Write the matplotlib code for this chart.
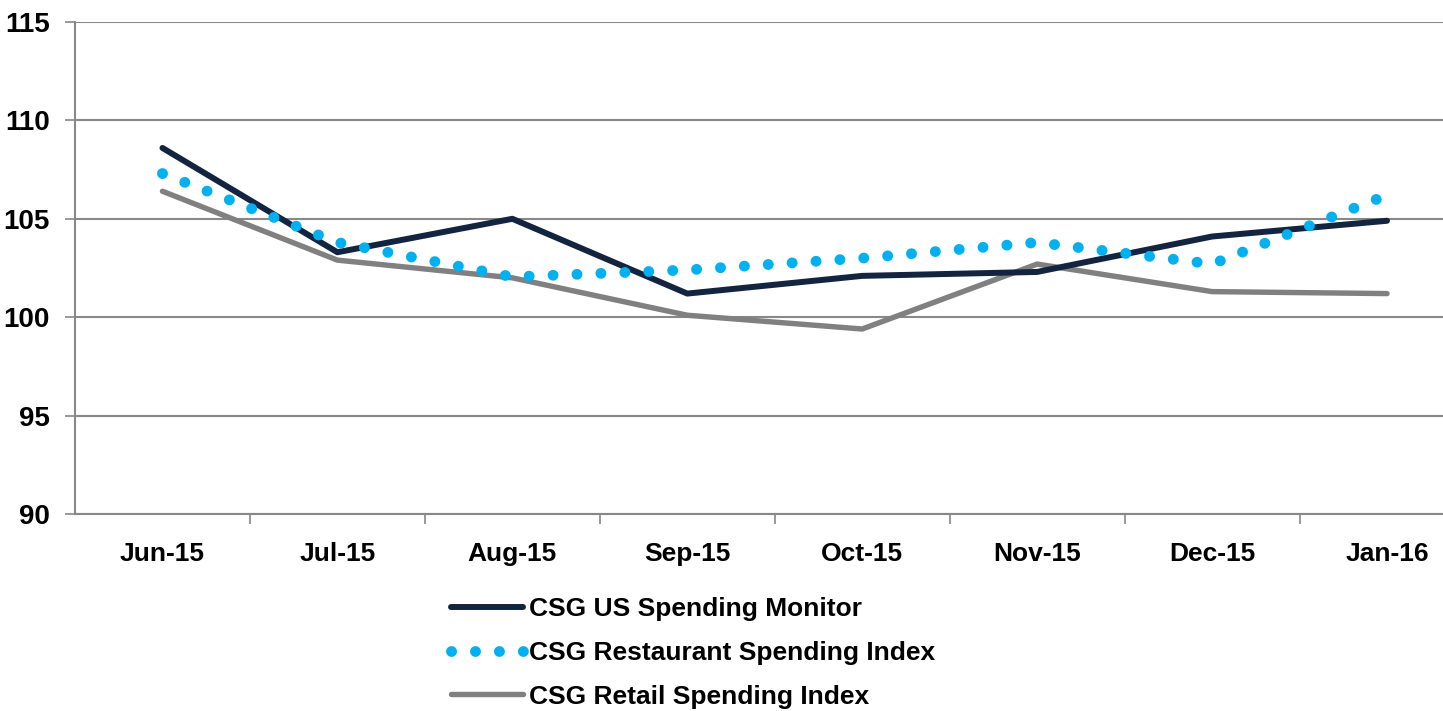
import matplotlib
matplotlib.use('Agg')
import matplotlib.pyplot as plt
import numpy as np

months = ["Jun-15", "Jul-15", "Aug-15", "Sep-15", "Oct-15", "Nov-15", "Dec-15", "Jan-16"]
us_spending = [108.6, 103.3, 105.0, 101.2, 102.1, 102.3, 104.1, 104.9]
restaurant = [107.3, 103.8, 102.05, 102.4, 103.0, 103.8, 102.7, 106.2]
retail = [106.4, 102.9, 102.0, 100.1, 99.4, 102.7, 101.3, 101.2]

plt.rcParams['font.family'] = ['Liberation Sans', 'DejaVu Sans']
plt.rcParams['font.weight'] = 'bold'

fig = plt.figure(figsize=(14.43, 7.11), dpi=100)
ax = fig.add_axes([75 / 1443, 1 - 514 / 711, 1 - 75 / 1443, (514 - 22) / 711])

x = np.arange(len(months))
ax.plot(x, us_spending, color='#12243f', lw=4.3, solid_capstyle='round',
        solid_joinstyle='round', label="CSG US Spending Monitor", zorder=3)
ax.plot(x, restaurant, color='#00b0f0', lw=7.8, linestyle=(0, (0.01, 2.2)),
        dash_capstyle='round', label="CSG Restaurant Spending Index", zorder=4)
ax.plot(x, retail, color='#808080', lw=3.9, solid_capstyle='round',
        solid_joinstyle='round', label="CSG Retail Spending Index", zorder=2)

ax.set_ylim(90, 115)
ax.set_yticks([90, 95, 100, 105, 110, 115])
ax.set_xlim(-0.5, 7.32)
ax.set_xticks(x)
ax.set_xticklabels(months)
ax.set_xticks(np.arange(0.5, 7.5, 1), minor=True)
ax.tick_params(axis='x', which='major', length=0, pad=20, labelsize=19)
ax.tick_params(axis='x', which='minor', length=7, width=1.2, color='#888888')
ax.tick_params(axis='y', length=7, width=1.2, color='#888888', pad=11, labelsize=20)

ax.grid(axis='y', color='#888888', lw=1.5, zorder=0)
ax.set_axisbelow(True)
for s in ['top', 'right']:
    ax.spines[s].set_visible(False)
for s in ['left', 'bottom']:
    ax.spines[s].set_color('#888888')
    ax.spines[s].set_linewidth(1.5)

fig.legend(loc='center', bbox_to_anchor=(0.48, 0.0816), frameon=False,
           fontsize=19, handlelength=2.75, handletextpad=0.2, labelspacing=0.74,
           borderpad=0)

fig.savefig('out.png', dpi=100)
